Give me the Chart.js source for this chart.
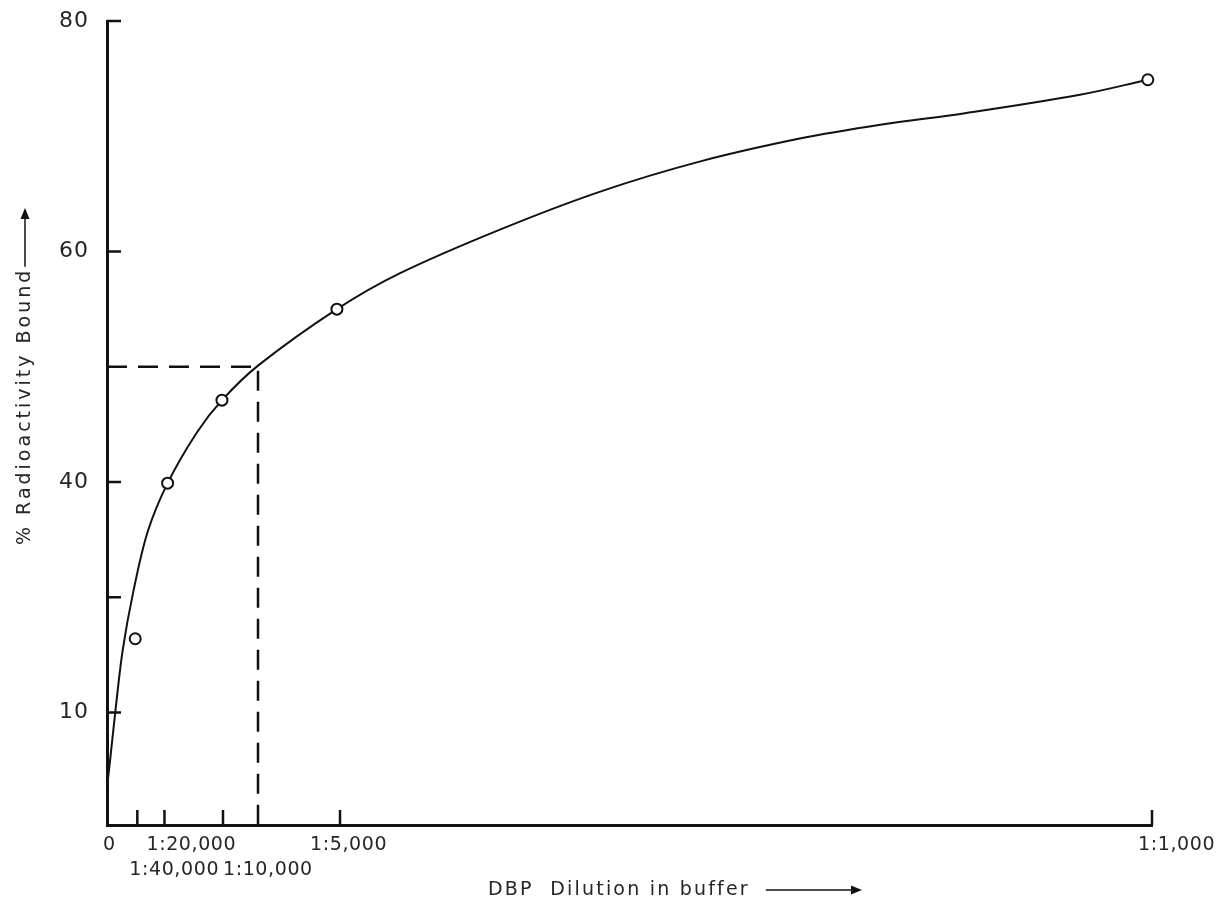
<!DOCTYPE html>
<html>
<head>
<meta charset="utf-8">
<script src="https://cdn.jsdelivr.net/npm/chart.js@4.4.0/dist/chart.umd.min.js"></script>
<style>
  html, body { margin: 0; padding: 0; background: #fff; }
  #wrap { width: 1223px; height: 924px; position: relative; }
</style>
</head>
<body>
<div id="wrap"><canvas id="bindingChart"></canvas></div>
<script>
// x = DBP concentration, in units of a 1:1,000 dilution
const pointX = [0.027, 0.058, 0.110, 0.220, 0.996];
const pointY = [26.4, 39.9, 47.1, 55.0, 74.9];

// the hand-drawn smooth curve
const curveX = [0.000, 0.003, 0.008, 0.015, 0.025, 0.039, 0.058, 0.086, 0.110, 0.1445, 0.220, 0.280, 0.376, 0.472, 0.567, 0.663, 0.740, 0.821, 0.931, 0.996];
const curveY = [13.5, 15.9, 20.1, 25.4, 30.4, 35.7, 39.9, 44.3, 47.1, 50.1, 55.0, 58.1, 61.9, 65.2, 67.8, 69.8, 71.0, 72.0, 73.6, 74.9];

// 50% binding read-off
const halfX = 0.1445;
const halfY = 50;

const xTickValues = [0, 0.029, 0.055, 0.111, 0.223, 1.0];
const xTickLabels = ['0', '1:40,000', '1:20,000', '1:10,000', '1:5,000', '1:1,000'];
const xTickRows = [0, 1, 0, 1, 0, 0];

const yMin = 10.24;
const yMax = 80;
const yTickValues = [20, 30, 40, 60, 80];
const yTickLabels = ['10', '', '40', '60', '80'];

const ink = '#111';
const textColor = '#262626';
const family = '"DejaVu Sans", sans-serif';

// how far each printed label sits left of its tick
const labelShift = [-4, -8, -18, 0, -30, -14];

function arrowHead(ctx, x, y) {
    ctx.beginPath();
    ctx.moveTo(x, y);
    ctx.lineTo(x - 11, y - 4.5);
    ctx.lineTo(x - 11, y + 4.5);
    ctx.closePath();
    ctx.fill();
}

const frame = {
    id: 'frame',
    beforeDraw(chart) {
        chart.ctx.letterSpacing = '1px';
    },
    afterDatasetsDraw(chart) {
        const { ctx, chartArea: a, scales: { x, y } } = chart;
        ctx.save();
        ctx.strokeStyle = ink;
        ctx.fillStyle = ink;
        ctx.lineWidth = 2.5;

        // tick marks point into the plot
        ctx.beginPath();
        yTickValues.forEach(v => {
            const py = y.getPixelForValue(v);
            ctx.moveTo(a.left, py);
            ctx.lineTo(a.left + 14, py);
        });
        xTickValues.slice(1).forEach(v => {
            const px = x.getPixelForValue(v);
            ctx.moveTo(px, a.bottom);
            ctx.lineTo(px, a.bottom - 15);
        });
        ctx.stroke();

        // x tick labels, two staggered rows
        ctx.save();
        ctx.font = '19px ' + family;
        ctx.letterSpacing = '0.6px';
        ctx.fillStyle = textColor;
        ctx.textAlign = 'left';
        ctx.textBaseline = 'middle';
        xTickValues.forEach((v, i) => {
            const px = x.getPixelForValue(v) + labelShift[i];
            ctx.fillText(xTickLabels[i], px, a.bottom + 20 + xTickRows[i] * 25);
        });
        ctx.restore();

        // y title, rotated, with arrow
        ctx.save();
        ctx.font = '19px ' + family;
        ctx.letterSpacing = '3px';
        ctx.fillStyle = textColor;
        ctx.translate(25, a.bottom - 280);
        ctx.rotate(-Math.PI / 2);
        ctx.textAlign = 'left';
        ctx.textBaseline = 'middle';
        const yTitle = '% Radioactivity Bound';
        ctx.fillText(yTitle, 0, 0);
        const yw = ctx.measureText(yTitle).width;
        ctx.lineWidth = 1.5;
        ctx.beginPath();
        ctx.moveTo(yw + 1, 0);
        ctx.lineTo(335, 0);
        ctx.stroke();
        ctx.fillStyle = ink;
        arrowHead(ctx, 337, 0);
        ctx.restore();

        // x title with arrow
        ctx.save();
        ctx.font = '19px ' + family;
        ctx.letterSpacing = '2.2px';
        ctx.fillStyle = textColor;
        ctx.textAlign = 'left';
        ctx.textBaseline = 'middle';
        const xTitle = 'DBP  Dilution in buffer';
        ctx.fillText(xTitle, 488, 890);
        const xw = ctx.measureText(xTitle).width;
        ctx.lineWidth = 1.5;
        ctx.beginPath();
        ctx.moveTo(488 + xw + 16, 890);
        ctx.lineTo(858, 890);
        ctx.stroke();
        ctx.fillStyle = ink;
        arrowHead(ctx, 862, 890);
        ctx.restore();

        ctx.restore();
    }
};

new Chart(document.getElementById('bindingChart'), {
    type: 'scatter',
    data: {
        datasets: [
            {
                label: 'measured',
                data: pointX.map((v, i) => ({ x: v, y: pointY[i] })),
                pointRadius: 5.5,
                pointBorderWidth: 2,
                pointBackgroundColor: '#fff',
                pointBorderColor: ink,
                clip: false
            },
            {
                label: 'curve',
                data: curveX.map((v, i) => ({ x: v, y: curveY[i] })),
                showLine: true,
                pointRadius: 0,
                borderColor: ink,
                borderWidth: 2,
                tension: 0.35,
                clip: false
            },
            {
                label: 'half',
                data: [{ x: 0, y: halfY }, { x: halfX, y: halfY }, { x: halfX, y: yMin }],
                showLine: true,
                pointRadius: 0,
                borderColor: ink,
                borderWidth: 2.5,
                borderDash: [20, 11],
                tension: 0,
                clip: false
            }
        ]
    },
    options: {
        responsive: true,
        maintainAspectRatio: false,
        animation: false,
        layout: { padding: { top: 21, right: 71, bottom: 0, left: 0 } },
        plugins: {
            legend: { display: false },
            tooltip: { enabled: false }
        },
        scales: {
            x: {
                type: 'linear',
                min: 0,
                max: 1,
                afterBuildTicks: s => { s.ticks = xTickValues.map(v => ({ value: v })); },
                afterFit: s => { s.height = 99; s.paddingLeft = 0; s.paddingRight = 0; },
                grid: { display: false, drawTicks: false },
                border: { display: true, width: 3, color: ink },
                ticks: { display: false }
            },
            y: {
                type: 'linear',
                min: yMin,
                max: yMax,
                afterBuildTicks: s => { s.ticks = yTickValues.map(v => ({ value: v })); },
                afterFit: s => { s.width = 107; s.paddingTop = 0; s.paddingBottom = 0; },
                grid: { display: false, drawTicks: false },
                border: { display: true, width: 3, color: ink },
                ticks: {
                    padding: 18,
                    color: textColor,
                    font: { family: family, size: 22 },
                    callback: (v, i) => yTickLabels[i]
                }
            }
        }
    },
    plugins: [frame]
});
</script>
</body>
</html>
